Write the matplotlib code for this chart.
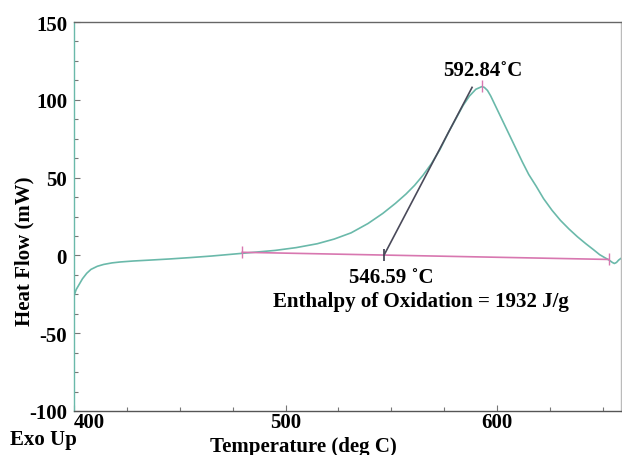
import matplotlib
matplotlib.use("Agg")
import matplotlib.pyplot as plt
from matplotlib.ticker import MultipleLocator

plt.rcParams['font.family'] = ['Liberation Serif', 'DejaVu Serif']
plt.rcParams['font.weight'] = 'bold'
plt.rcParams['axes.unicode_minus'] = False

# DSC curve (Temperature in deg C, Heat Flow in mW)
temperature = [400, 401, 402.5, 404, 406, 408, 411, 414, 418, 422, 428, 436, 445, 455, 465,
               475, 485, 495, 505, 515, 523, 531, 539, 546, 552, 557, 561, 565, 569, 573,
               577, 581, 584, 587, 590, 592.84, 594, 595.5, 597, 600, 603, 606, 609, 612,
               615, 618.5, 622, 626, 630, 634, 638, 642, 645.5, 648.5, 651, 653, 654.5,
               655.5, 656.5, 657.5, 658.5]
heat_flow = [-26, -22, -18.5, -15, -11.5, -9, -7, -5.8, -4.8, -4.2, -3.6, -3, -2.3, -1.4, -0.4,
             0.8, 2, 3.2, 5, 7.5, 10.5, 14.5, 20.5, 27, 33.5, 39.5, 45, 51.5, 59, 68,
             79, 89, 96.5, 102.5, 106.8, 108.5, 108, 106, 102.5, 94, 85.5, 77, 68.5, 60,
             52, 44.5, 36.5, 29, 22.5, 17, 12, 7.5, 3.8, 0.5, -1.5, -3, -4.5,
             -5.2, -4.5, -3, -2]

# integration baseline
baseline_t = [479.5, 653]
baseline_hf = [2.0, -2.6]

# onset tangent
tangent_t = [546.59, 588.2]
tangent_hf = [0.2, 108]

peak_t, peak_hf = 592.84, 108.8
onset_t, onset_hf = 546.59, 0.2

x_ticks = [400, 500, 600]
y_ticks = [-100, -50, 0, 50, 100, 150]

teal = '#6ab9aa'
pink = '#d877b0'
dark = '#4a4a5a'

fig = plt.figure(figsize=(6.22, 4.56), dpi=100)
ax = fig.add_axes([0.119, 0.0965, 0.879, 0.853])

ax.plot(temperature, heat_flow, color=teal, lw=1.2)
ax.plot(baseline_t, baseline_hf, color=pink, lw=1.2)
ax.plot(baseline_t, baseline_hf, ls='none', marker='|', ms=8, mew=1.0, color=pink)
ax.plot(tangent_t, tangent_hf, color=dark, lw=1.2)
ax.plot([onset_t], [onset_hf], ls='none', marker='|', ms=8, mew=1.3, color=dark)
ax.plot([peak_t], [peak_hf], ls='none', marker='|', ms=8, mew=1.0, color=pink)

ax.text(593.4, 119, '592.84˚C', ha='center', va='center', fontsize=15, fontweight='bold')
ax.text(549.8, -13.6, '546.59 ˚C', ha='center', va='center', fontsize=15, fontweight='bold')
ax.text(563.8, -29, 'Enthalpy of Oxidation = 1932 J/g', ha='center', va='center',
        fontsize=15, fontweight='bold')

ax.set_xlim(400, 658.5)
ax.set_ylim(-100, 150)
ax.set_xticks(x_ticks)
ax.set_yticks(y_ticks)
ax.xaxis.set_minor_locator(MultipleLocator(25))
ax.yaxis.set_minor_locator(MultipleLocator(12.5))
ax.tick_params(which='both', direction='in', color='#777777', width=0.8)
ax.tick_params(which='major', length=4, labelsize=15)
ax.tick_params(which='minor', length=3)
ax.tick_params(axis='x', pad=1)
ax.tick_params(axis='y', pad=5)
for lab in ax.get_xticklabels() + ax.get_yticklabels():
    lab.set_fontweight('bold')
ax.get_xticklabels()[0].set_horizontalalignment('left')

ax.spines['left'].set_color(teal)
ax.spines['bottom'].set_color('#555555')
ax.spines['top'].set_color('#666666')
ax.spines['right'].set_color('#bbbbbb')
for s in ax.spines.values():
    s.set_linewidth(1.0)

fig.text(24 / 622, 1 - 251 / 456, 'Heat Flow (mW)', rotation=90, ha='center', va='center',
         fontsize=15, fontweight='bold')
fig.text(303 / 622, 1 - 447 / 456, 'Temperature (deg C)', ha='center', va='center',
         fontsize=15, fontweight='bold')
fig.text(10 / 622, 1 - 440 / 456, 'Exo Up', ha='left', va='center',
         fontsize=15, fontweight='bold')

fig.savefig('out.png', dpi=100)
